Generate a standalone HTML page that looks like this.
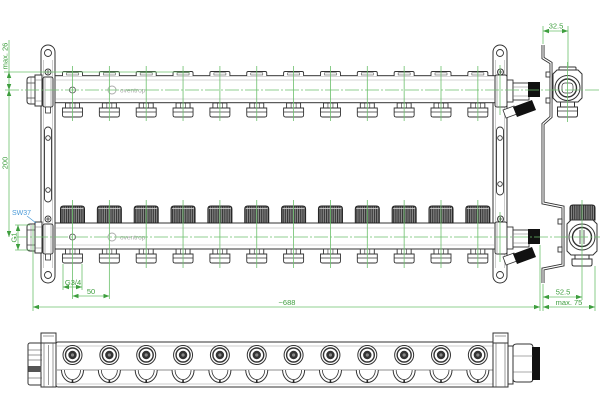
<!DOCTYPE html>
<html><head><meta charset="utf-8"><style>
html,body{margin:0;padding:0;background:#fff}
svg{display:block}
text{font-family:"Liberation Sans",sans-serif}
</style></head><body>
<svg width="600" height="420" viewBox="0 0 600 420" xmlns="http://www.w3.org/2000/svg">
<defs>
<marker id="ar" viewBox="0 0 8 6" refX="8" refY="3" markerWidth="6" markerHeight="4.5" markerUnits="userSpaceOnUse" orient="auto-start-reverse"><path d="M0,0 L8,3 L0,6z" fill="#3e9e3e"/></marker>
<pattern id="hatch" width="2.2" height="4" patternUnits="userSpaceOnUse"><rect width="2.2" height="4" fill="#8a8a8a"/><rect width="1.1" height="4" fill="#333"/></pattern>
<g id="th">
 <path d="M-10,76 V73 Q-10,71.5 -8.5,71.5 H8.5 Q10,71.5 10,73 V76" fill="#fff" stroke="#333" stroke-width="0.9"/>
 <rect x="-6" y="72.8" width="12" height="2.2" fill="none" stroke="#555" stroke-width="0.6"/>
</g>
<g id="bh">
 <rect x="-7" y="0" width="14" height="5" fill="#fff" stroke="#333" stroke-width="0.9"/>
 <line x1="-2.5" y1="0" x2="-2.5" y2="5" stroke="#333" stroke-width="0.6"/>
 <line x1="2.5" y1="0" x2="2.5" y2="5" stroke="#333" stroke-width="0.6"/>
 <path d="M-10,5 H10 V12 Q10,14 8,14 H-8 Q-10,14 -10,12 Z" fill="#fff" stroke="#333" stroke-width="0.9"/>
 <line x1="-10" y1="9" x2="10" y2="9" stroke="#333" stroke-width="0.7"/>
</g>
<g id="cap">
 <path d="M-12,0 V-14 Q-12,-17 -9,-17 H9 Q12,-17 12,-14 V0 Z" fill="url(#hatch)" stroke="#222" stroke-width="1"/>
 <line x1="-11" y1="-14.5" x2="11" y2="-14.5" stroke="#ddd" stroke-width="0.8"/>
</g>
<g id="bo">
 <path d="M-11,370 A11,12.5 0 0 0 11,370" fill="#fff" stroke="#333" stroke-width="1"/>
 <path d="M-8,370 A8,9.5 0 0 0 8,370" fill="none" stroke="#333" stroke-width="0.8"/>
 <rect x="-0.8" y="380" width="1.6" height="2.5" fill="#222"/>
 <circle cx="0" cy="355" r="9.5" fill="#fff" stroke="#333" stroke-width="1"/>
 <circle cx="0" cy="355" r="7" fill="none" stroke="#333" stroke-width="1.4"/>
 <circle cx="0" cy="355" r="4.2" fill="#333"/>
 <circle cx="0" cy="355" r="1.6" fill="#888"/>
</g>
<g id="lf">
 <path d="M35,77 H30 Q27,77 27,80 V101 Q27,104 30,104 H35" fill="#fff" stroke="#333" stroke-width="1"/>
 <rect x="35" y="75" width="7" height="31" fill="#fff" stroke="#333" stroke-width="1"/>
 <line x1="27" y1="83" x2="35" y2="83" stroke="#333" stroke-width="0.7"/>
 <line x1="27" y1="98" x2="35" y2="98" stroke="#333" stroke-width="0.7"/>
 <line x1="31" y1="77" x2="31" y2="104" stroke="#666" stroke-width="0.5"/>
 <line x1="35" y1="80" x2="42" y2="80" stroke="#666" stroke-width="0.5"/>
 <line x1="35" y1="101" x2="42" y2="101" stroke="#666" stroke-width="0.5"/>
 <rect x="43" y="77" width="10" height="30" rx="2" fill="#fff" stroke="#333" stroke-width="1"/>
 <line x1="45" y1="78" x2="45" y2="106" stroke="#666" stroke-width="0.5"/>
 <line x1="51" y1="78" x2="51" y2="106" stroke="#666" stroke-width="0.5"/>
 <rect x="45.5" y="107" width="5" height="6" fill="#fff" stroke="#333" stroke-width="0.8"/>
 <circle cx="48" cy="72" r="3" fill="#fff" stroke="#333" stroke-width="0.9"/>
 <path d="M46,72 H50 M48,70 V74" stroke="#333" stroke-width="0.8"/>
</g>
<g id="rf">
 <rect x="495" y="75" width="12" height="32" rx="2" fill="#fff" stroke="#333" stroke-width="1"/>
 <line x1="497" y1="76" x2="497" y2="106" stroke="#666" stroke-width="0.5"/>
 <circle cx="500.5" cy="72" r="3" fill="#fff" stroke="#333" stroke-width="0.9"/>
 <path d="M498.5,72 H502.5 M500.5,70 V74" stroke="#333" stroke-width="0.8"/>
 <rect x="507" y="80" width="6" height="22" fill="#fff" stroke="#333" stroke-width="0.9"/>
 <rect x="513" y="83" width="16" height="17" fill="#fff" stroke="#333" stroke-width="0.9"/>
 <line x1="513" y1="87" x2="529" y2="87" stroke="#777" stroke-width="0.5"/>
 <line x1="513" y1="96" x2="529" y2="96" stroke="#777" stroke-width="0.5"/>
 <rect x="528" y="82" width="12" height="15" fill="#111"/>
 <polygon points="503,110 514,106 517,114 506,118" fill="#fff" stroke="#333" stroke-width="0.8"/>
 <polygon points="513,107 532,100 536,110 517,117" fill="#111"/>
</g>
</defs>

<!-- brackets -->
<g fill="#fff" stroke="#333" stroke-width="1">
 <rect x="41" y="45" width="14" height="238" rx="7"/>
 <rect x="493" y="45" width="14" height="238" rx="7"/>
</g>
<g fill="none" stroke="#333" stroke-width="0.9">
 <circle cx="48" cy="53" r="3.5"/><circle cx="48" cy="275" r="3.5"/>
 <rect x="44.5" y="127" width="7" height="75" rx="3.5"/>
 <circle cx="48" cy="138" r="2.3"/><circle cx="48" cy="190" r="2.3"/>
 <circle cx="500" cy="53" r="3.5"/><circle cx="500" cy="275" r="3.5"/>
 <rect x="496.5" y="127" width="7" height="68" rx="3.5"/>
 <circle cx="500" cy="138" r="2.3"/><circle cx="500" cy="184" r="2.3"/>
</g>
<g stroke="#999" stroke-width="0.5">
 <line x1="43.5" y1="60" x2="43.5" y2="268"/><line x1="52.5" y1="60" x2="52.5" y2="268"/>
 <line x1="495.5" y1="60" x2="495.5" y2="268"/><line x1="504.5" y1="60" x2="504.5" y2="268"/>
</g>

<!-- upper manifold -->
<rect x="55" y="75.7" width="440" height="27" fill="#fff" stroke="#333" stroke-width="1"/>
<line x1="56" y1="80" x2="494" y2="80" stroke="#aaa" stroke-width="0.6"/>
<line x1="56" y1="99" x2="494" y2="99" stroke="#aaa" stroke-width="0.6"/>
<circle cx="72.5" cy="90" r="3" fill="#fff" stroke="#444" stroke-width="0.8"/>
<circle cx="112" cy="90" r="4" fill="none" stroke="#aaa" stroke-width="0.9"/>
<text x="120" y="92.5" font-size="6.5" fill="#aaa">oventrop</text>
<g>
 <use href="#th" x="72.5"/><use href="#th" x="109.35"/><use href="#th" x="146.2"/><use href="#th" x="183.05"/>
 <use href="#th" x="219.9"/><use href="#th" x="256.75"/><use href="#th" x="293.6"/><use href="#th" x="330.45"/>
 <use href="#th" x="367.3"/><use href="#th" x="404.15"/><use href="#th" x="441"/><use href="#th" x="477.85"/>
</g>
<g>
 <use href="#bh" x="72.5" y="103"/><use href="#bh" x="109.35" y="103"/><use href="#bh" x="146.2" y="103"/><use href="#bh" x="183.05" y="103"/>
 <use href="#bh" x="219.9" y="103"/><use href="#bh" x="256.75" y="103"/><use href="#bh" x="293.6" y="103"/><use href="#bh" x="330.45" y="103"/>
 <use href="#bh" x="367.3" y="103"/><use href="#bh" x="404.15" y="103"/><use href="#bh" x="441" y="103"/><use href="#bh" x="477.85" y="103"/>
</g>
<use href="#lf"/>
<use href="#rf"/>

<!-- lower manifold -->
<rect x="55" y="223" width="440" height="26" fill="#fff" stroke="#333" stroke-width="1"/>
<line x1="56" y1="228" x2="494" y2="228" stroke="#aaa" stroke-width="0.6"/>
<line x1="56" y1="245" x2="494" y2="245" stroke="#aaa" stroke-width="0.6"/>
<circle cx="72.5" cy="237" r="3" fill="#fff" stroke="#444" stroke-width="0.8"/>
<circle cx="112" cy="237" r="4" fill="none" stroke="#aaa" stroke-width="0.9"/>
<text x="120" y="239.5" font-size="6.5" fill="#aaa">oventrop</text>
<g>
 <use href="#cap" x="72.5" y="223"/><use href="#cap" x="109.35" y="223"/><use href="#cap" x="146.2" y="223"/><use href="#cap" x="183.05" y="223"/>
 <use href="#cap" x="219.9" y="223"/><use href="#cap" x="256.75" y="223"/><use href="#cap" x="293.6" y="223"/><use href="#cap" x="330.45" y="223"/>
 <use href="#cap" x="367.3" y="223"/><use href="#cap" x="404.15" y="223"/><use href="#cap" x="441" y="223"/><use href="#cap" x="477.85" y="223"/>
</g>
<g>
 <use href="#bh" x="72.5" y="249"/><use href="#bh" x="109.35" y="249"/><use href="#bh" x="146.2" y="249"/><use href="#bh" x="183.05" y="249"/>
 <use href="#bh" x="219.9" y="249"/><use href="#bh" x="256.75" y="249"/><use href="#bh" x="293.6" y="249"/><use href="#bh" x="330.45" y="249"/>
 <use href="#bh" x="367.3" y="249"/><use href="#bh" x="404.15" y="249"/><use href="#bh" x="441" y="249"/><use href="#bh" x="477.85" y="249"/>
</g>
<use href="#lf" transform="translate(0,147)"/>
<use href="#rf" transform="translate(0,147)"/>

<!-- side view profile -->
<polyline points="543,45 543,58 551,63 551,117 543,124 543,203 563,207 563,265 543,269 543,283" fill="none" stroke="#333" stroke-width="3"/>
<polyline points="543,45 543,58 551,63 551,117 543,124 543,203 563,207 563,265 543,269 543,283" fill="none" stroke="#fff" stroke-width="1.2"/>
<g fill="#fff" stroke="#333" stroke-width="0.9">
 <rect x="546" y="72" width="4" height="5"/><rect x="546" y="98" width="4" height="5"/>
 <rect x="558" y="219" width="4" height="5"/><rect x="558" y="247" width="4" height="5"/>
</g>
<!-- upper side fitting -->
<g stroke="#333" fill="#fff" stroke-width="1">
 <rect x="559" y="67" width="17" height="4" rx="1"/>
 <path d="M557,70 H578 L582,74 V98 L578,102 H557 L553,98 V74 Z"/>
 <circle cx="567.5" cy="88" r="12.5"/>
 <circle cx="567.5" cy="88" r="9" stroke-width="1.4"/>
 <rect x="562" y="83" width="11" height="10" rx="3" stroke-width="0.7"/>
 <rect x="560.5" y="102" width="14" height="5"/>
 <path d="M557.5,107 H577.5 V115 Q577.5,117 575.5,117 H559.5 Q557.5,117 557.5,115 Z"/>
 <line x1="557.5" y1="111" x2="577.5" y2="111" stroke-width="0.7"/>
</g>
<!-- lower side fitting -->
<g stroke="#333" stroke-width="1">
 <path d="M570,220 V208 Q570,205 573,205 H592 Q595,205 595,208 V220 Z" fill="url(#hatch)" stroke="#222"/>
 <path d="M571,220 H593 L597,224 V251 L593,255 H571 L567,251 V224 Z" fill="#fff"/>
 <circle cx="582" cy="237" r="13" fill="#fff"/>
 <circle cx="582" cy="237" r="9.5" fill="#fff" stroke-width="1.4"/>
 <path d="M580,230 V244 M584,230 V244" stroke-width="0.8"/>
 <rect x="575" y="255" width="14" height="4" fill="#fff"/>
 <path d="M572,259 H592 V264 Q592,266 590,266 H574 Q572,266 572,264 Z" fill="#fff"/>
</g>

<!-- bottom view -->
<rect x="56" y="342" width="439" height="45" rx="2" fill="#fff" stroke="#333" stroke-width="1"/>
<line x1="57" y1="346" x2="494" y2="346" stroke="#999" stroke-width="0.6"/>
<line x1="57" y1="370" x2="494" y2="370" stroke="#666" stroke-width="0.7"/>
<line x1="57" y1="384" x2="494" y2="384" stroke="#999" stroke-width="0.6"/>
<g>
 <use href="#bo" x="72.5"/><use href="#bo" x="109.35"/><use href="#bo" x="146.2"/><use href="#bo" x="183.05"/>
 <use href="#bo" x="219.9"/><use href="#bo" x="256.75"/><use href="#bo" x="293.6"/><use href="#bo" x="330.45"/>
 <use href="#bo" x="367.3"/><use href="#bo" x="404.15"/><use href="#bo" x="441"/><use href="#bo" x="477.85"/>
</g>
<g fill="#fff" stroke="#333" stroke-width="1">
 <rect x="28" y="343" width="14" height="42" rx="2"/>
 <rect x="41" y="343" width="15" height="44"/>
 <rect x="41" y="333" width="15" height="10"/>
 <rect x="493" y="343" width="15" height="44"/>
 <rect x="493" y="333" width="15" height="10"/>
 <rect x="508" y="346" width="5" height="38"/>
 <path d="M513,347 Q513,344 517,344 H530 Q533,344 533,348 V378 Q533,382 530,382 H517 Q513,382 513,379 Z"/>
</g>
<rect x="532" y="347" width="8" height="33" fill="#111"/>
<rect x="28.5" y="366" width="13" height="6" fill="#555"/>
<g stroke="#555" stroke-width="0.6">
 <line x1="28" y1="350" x2="42" y2="350"/><line x1="28" y1="355" x2="42" y2="355"/><line x1="28" y1="360" x2="42" y2="360"/>
 <line x1="28" y1="378" x2="42" y2="378"/>
 <line x1="44" y1="343" x2="44" y2="387"/><line x1="53" y1="343" x2="53" y2="387"/>
 <line x1="48.5" y1="345" x2="48.5" y2="385"/>
 <line x1="43" y1="336" x2="54" y2="336"/>
 <line x1="496" y1="343" x2="496" y2="387"/><line x1="505" y1="343" x2="505" y2="387"/>
 <line x1="495" y1="336" x2="506" y2="336"/>
 <line x1="513" y1="356" x2="533" y2="356"/><line x1="513" y1="372" x2="533" y2="372"/>
</g>

<!-- green centerlines -->
<g stroke="#6cc06c" stroke-width="0.8" fill="none">
 <line x1="5" y1="90" x2="600" y2="90" stroke-dasharray="14,2,2,2"/>
 <line x1="14" y1="237" x2="600" y2="237" stroke-dasharray="14,2,2,2"/>
 <line x1="4" y1="72" x2="190" y2="72"/>
 <path d="M72.5,66 V121 M109.35,66 V121 M146.2,66 V121 M183.05,66 V121 M219.9,66 V121 M256.75,66 V121 M293.6,66 V121 M330.45,66 V121 M367.3,66 V121 M404.15,66 V121 M441,66 V121 M477.85,66 V121"/>
 <path d="M72.5,200 V299 M109.35,200 V299 M146.2,200 V268 M183.05,200 V268 M219.9,200 V268 M256.75,200 V268 M293.6,200 V268 M330.45,200 V268 M367.3,200 V268 M404.15,200 V268 M441,200 V268 M477.85,200 V268"/>
 <path d="M567.5,62 V122 M582,200 V300 M500,65 V115 M500,212 V262"/>
 <path d="M543,26 V44 M568,26 V68 M595,266 V311 M543,284 V311 M540,245 V311 M33,225 V311 M63,264 V290 M82,264 V290 M15,225 H30 M15,250 H30"/>
 <line x1="9" y1="40" x2="9" y2="72"/>
 <line x1="9" y1="72" x2="9" y2="90" marker-start="url(#ar)" marker-end="url(#ar)"/>
 <line x1="9" y1="90" x2="9" y2="237" marker-start="url(#ar)" marker-end="url(#ar)"/>
 <line x1="18" y1="225" x2="18" y2="250" marker-start="url(#ar)" marker-end="url(#ar)"/>
 <line x1="543" y1="31" x2="568" y2="31" marker-start="url(#ar)" marker-end="url(#ar)"/>
 <line x1="543" y1="297" x2="582" y2="297" marker-start="url(#ar)" marker-end="url(#ar)"/>
 <line x1="543" y1="307" x2="595" y2="307" marker-start="url(#ar)" marker-end="url(#ar)"/>
 <line x1="33" y1="307" x2="540" y2="307" marker-start="url(#ar)" marker-end="url(#ar)"/>
 <line x1="72.5" y1="296" x2="109.35" y2="296" marker-start="url(#ar)" marker-end="url(#ar)"/>
 <line x1="63" y1="287" x2="82" y2="287" marker-start="url(#ar)" marker-end="url(#ar)"/>
</g>
<line x1="27" y1="216" x2="36" y2="223" stroke="#4a9ad8" stroke-width="0.7"/>

<!-- labels -->
<g fill="#3e9e3e" font-size="7.5">
 <text x="556" y="28.5" text-anchor="middle">32.5</text>
 <text x="563" y="294.5" text-anchor="middle">52.5</text>
 <text x="569" y="305" text-anchor="middle">max. 75</text>
 <text x="287" y="305" text-anchor="middle">~688</text>
 <text x="91" y="294" text-anchor="middle">50</text>
 <text x="73" y="285" text-anchor="middle">G3/4</text>
 <text transform="translate(7.5,56) rotate(-90)" text-anchor="middle">max. 26</text>
 <text transform="translate(7.5,163) rotate(-90)" text-anchor="middle">200</text>
 <text transform="translate(16.5,237.5) rotate(-90)" text-anchor="middle">G1</text>
</g>
<text x="12" y="215" font-size="7" fill="#4a9ad8">SW37</text>
</svg>
</body></html>
